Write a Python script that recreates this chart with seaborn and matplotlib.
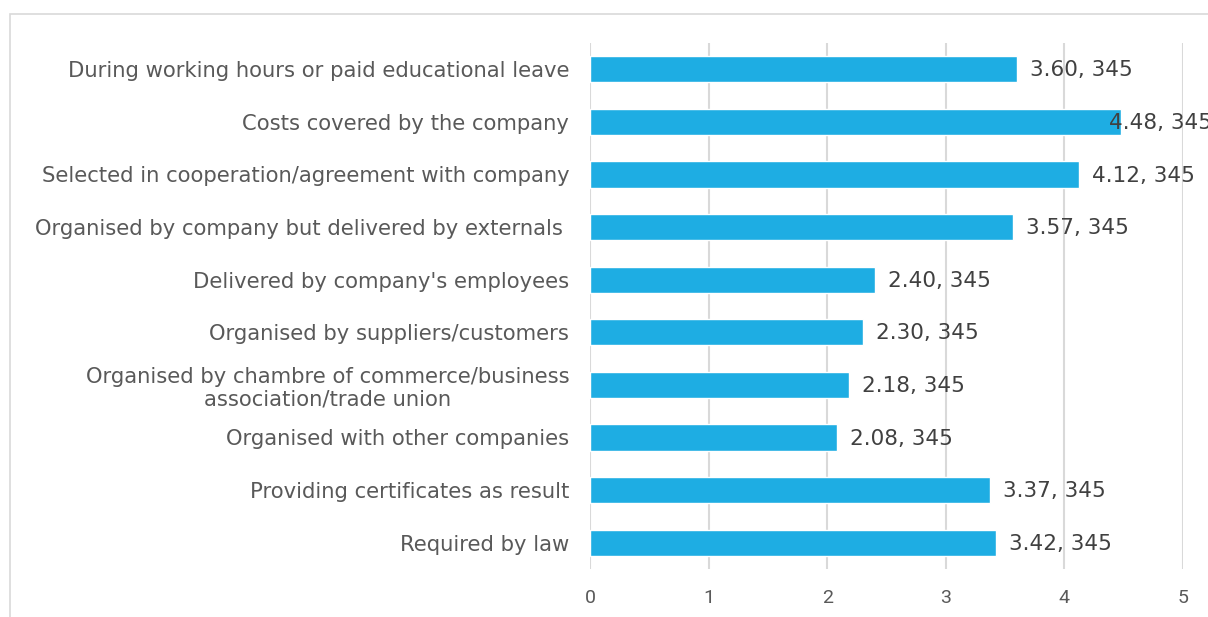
import matplotlib
matplotlib.use("Agg")
import matplotlib.pyplot as plt
import seaborn as sns
import pandas as pd
from matplotlib.patches import Rectangle

categories = [
    "During working hours or paid educational leave",
    "Costs covered by the company",
    "Selected in cooperation/agreement with company",
    "Organised by company but delivered by externals ",
    "Delivered by company's employees",
    "Organised by suppliers/customers",
    "Organised by chambre of commerce/business\nassociation/trade union",
    "Organised with other companies",
    "Providing certificates as result",
    "Required by law",
]
values = [3.60, 4.48, 4.12, 3.57, 2.40, 2.30, 2.18, 2.08, 3.37, 3.42]
counts = [345] * 10
xticks = [0, 1, 2, 3, 4, 5]

df = pd.DataFrame({"cat": categories, "val": values, "n": counts})

sns.set_style("white")
plt.rcParams['font.family'] = ['DejaVu Sans']

fig = plt.figure(figsize=(12.08, 6.17), dpi=100)
ax = fig.add_axes([590/1208, 1-569/617, (1183-590)/1208, (569-43)/617])

# outer chart border
fig.patches.append(Rectangle((10/1208, -0.1), 1.2, 1-14/617+0.1, transform=fig.transFigure,
                             fill=False, edgecolor="#d9d9d9", linewidth=1.2, zorder=0))

sns.barplot(data=df, y="cat", x="val", orient="h", color="#1eade3", width=0.5,
            saturation=1, ax=ax, zorder=3)

ax.set_xlim(0, 5)
ax.set_ylim(9.5, -0.5)
ax.set_xticks(xticks)
ax.set_xticklabels([str(t) for t in xticks], fontsize=14, color="#595959", family="Roboto")
ax.tick_params(axis="x", length=0, pad=14.5)
ax.tick_params(axis="y", length=0, pad=15)
for lab in ax.get_yticklabels():
    lab.set_family("DejaVu Sans")
    lab.set_fontsize(15.2)
    lab.set_color("#595959")
    lab.set_horizontalalignment("right")
    lab.set_multialignment("center")
    lab.set_linespacing(1.15)
ax.set_xlabel("")
ax.set_ylabel("")
for s in ax.spines.values():
    s.set_visible(False)
ax.grid(axis="x", color="#d9d9d9", linewidth=1.5, zorder=0)
ax.set_axisbelow(True)

for i, (v, n) in enumerate(zip(values, counts)):
    x = min(v + 0.11, 4.38)
    ax.text(x, i + 0.02, f"{v:.2f}, {n}", va="center", ha="left", fontsize=15.5,
            color="#404040", family="DejaVu Sans", zorder=4)

fig.savefig("out.png", dpi=100)
